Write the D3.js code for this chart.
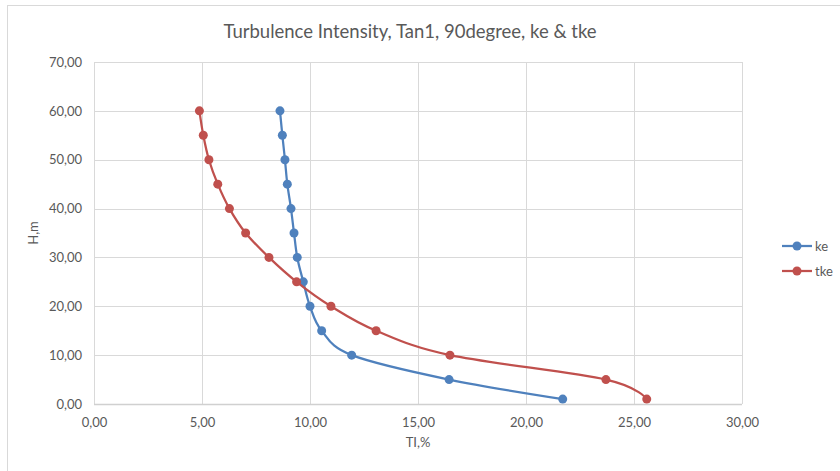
<!DOCTYPE html>
<html>
<head>
<meta charset="utf-8">
<script src="https://cdn.jsdelivr.net/npm/d3@7"></script>
<style>
  body { margin: 0; background: #fff; }
  svg { display: block; font-family: Lato, "Open Sans", sans-serif; }
</style>
</head>
<body>
<svg id="chart" width="840" height="471"></svg>
<script>
// heights (m) and TI values (%)
const heights = [60, 55, 50, 45, 40, 35, 30, 25, 20, 15, 10, 5, 1];
const keTI  = [8.61, 8.72, 8.84, 8.95, 9.12, 9.26, 9.41, 9.69, 10.0, 10.54, 11.93, 16.44, 21.70];
const tkeTI = [4.88, 5.06, 5.32, 5.73, 6.27, 7.02, 8.10, 9.38, 10.97, 13.06, 16.48, 23.70, 25.59];
const seriesNames = ["ke", "tke"];
const xTicks = [0, 5, 10, 15, 20, 25, 30];
const yTicks = [0, 10, 20, 30, 40, 50, 60, 70];

const colors = { ke: "#4F81BD", tke: "#C0504D" };
const svg = d3.select("#chart");
const plot = { left: 94, right: 742, top: 62, bottom: 404 };

const x = d3.scaleLinear().domain([0, 30]).range([plot.left, plot.right]);
const y = d3.scaleLinear().domain([0, 70]).range([plot.bottom, plot.top]);
const fmt = v => d3.format(".2f")(v).replace(".", ",");

//cornice del grafico
svg.append("rect")
  .attr("x", 7.5).attr("y", 5.5)
  .attr("width", 850).attr("height", 480)
  .attr("fill", "none").attr("stroke", "#d9d9d9");

svg.append("text")
  .attr("x", 410).attr("y", 38)
  .attr("text-anchor", "middle")
  .attr("font-size", 18.5)
  .attr("fill", "#595959")
  .text("Turbulence Intensity, Tan1, 90degree, ke & tke");

// griglia
svg.append("g")
  .selectAll("line")
  .data(yTicks)
  .join("line")
  .attr("x1", plot.left).attr("x2", plot.right)
  .attr("y1", d => Math.round(y(d)) + 0.5).attr("y2", d => Math.round(y(d)) + 0.5)
  .attr("stroke", "#d9d9d9");

svg.append("g")
  .selectAll("line")
  .data(xTicks)
  .join("line")
  .attr("y1", plot.top).attr("y2", plot.bottom)
  .attr("x1", d => Math.round(x(d)) + 0.5).attr("x2", d => Math.round(x(d)) + 0.5)
  .attr("stroke", "#d9d9d9");

// asse x piu' marcato
svg.append("line")
  .attr("x1", plot.left).attr("x2", plot.right)
  .attr("y1", plot.bottom + 0.5).attr("y2", plot.bottom + 0.5)
  .attr("stroke", "#d0d0d0").attr("stroke-width", 1.5);

const xAxis = svg.append("g")
  .attr("transform", `translate(0,${plot.bottom})`)
  .call(d3.axisBottom(x).tickValues(xTicks).tickFormat(fmt).tickSize(0).tickPadding(14));
const yAxis = svg.append("g")
  .attr("transform", `translate(${plot.left},0)`)
  .call(d3.axisLeft(y).tickValues(yTicks).tickFormat(fmt).tickSize(0).tickPadding(12));

[xAxis, yAxis].forEach(a => {
  a.select(".domain").remove();
  a.selectAll("text")
    .attr("font-family", "Lato, 'Open Sans', sans-serif")
    .attr("font-size", 13)
    .attr("fill", "#595959");
});

svg.append("text")
  .attr("x", 418).attr("y", 447)
  .attr("text-anchor", "middle")
  .attr("font-size", 13).attr("fill", "#595959")
  .text("TI,%");

svg.append("text")
  .attr("transform", "translate(38,233) rotate(-90)")
  .attr("text-anchor", "middle")
  .attr("font-size", 13).attr("fill", "#595959")
  .text("H,m");

const series = [
  { name: "ke", values: keTI },
  { name: "tke", values: tkeTI }
];

const line = d3.line()
  .x(d => x(d[0]))
  .y(d => y(d[1]))
  .curve(d3.curveCatmullRom.alpha(0));

series.forEach(s => {
  const pts = s.values.map((v, i) => [v, heights[i]]);
  svg.append("path")
    .datum(pts)
    .attr("d", line)
    .attr("fill", "none")
    .attr("stroke", colors[s.name])
    .attr("stroke-width", 2.25)
    .attr("stroke-linejoin", "round");
  svg.append("g")
    .selectAll("circle")
    .data(pts)
    .join("circle")
    .attr("cx", d => x(d[0]))
    .attr("cy", d => y(d[1]))
    .attr("r", 4.5)
    .attr("fill", colors[s.name]);
});

// legenda
const legend = svg.append("g");
seriesNames.forEach((name, i) => {
  const ly = 246 + i * 25;
  const g = legend.append("g");
  g.append("line")
    .attr("x1", 782).attr("x2", 812)
    .attr("y1", ly).attr("y2", ly)
    .attr("stroke", colors[name]).attr("stroke-width", 2.25);
  g.append("circle")
    .attr("cx", 797).attr("cy", ly).attr("r", 4.5)
    .attr("fill", colors[name]);
  g.append("text")
    .attr("x", 815).attr("y", ly + 4.5)
    .attr("font-size", 13).attr("fill", "#595959")
    .text(name);
});
</script>
</body>
</html>
